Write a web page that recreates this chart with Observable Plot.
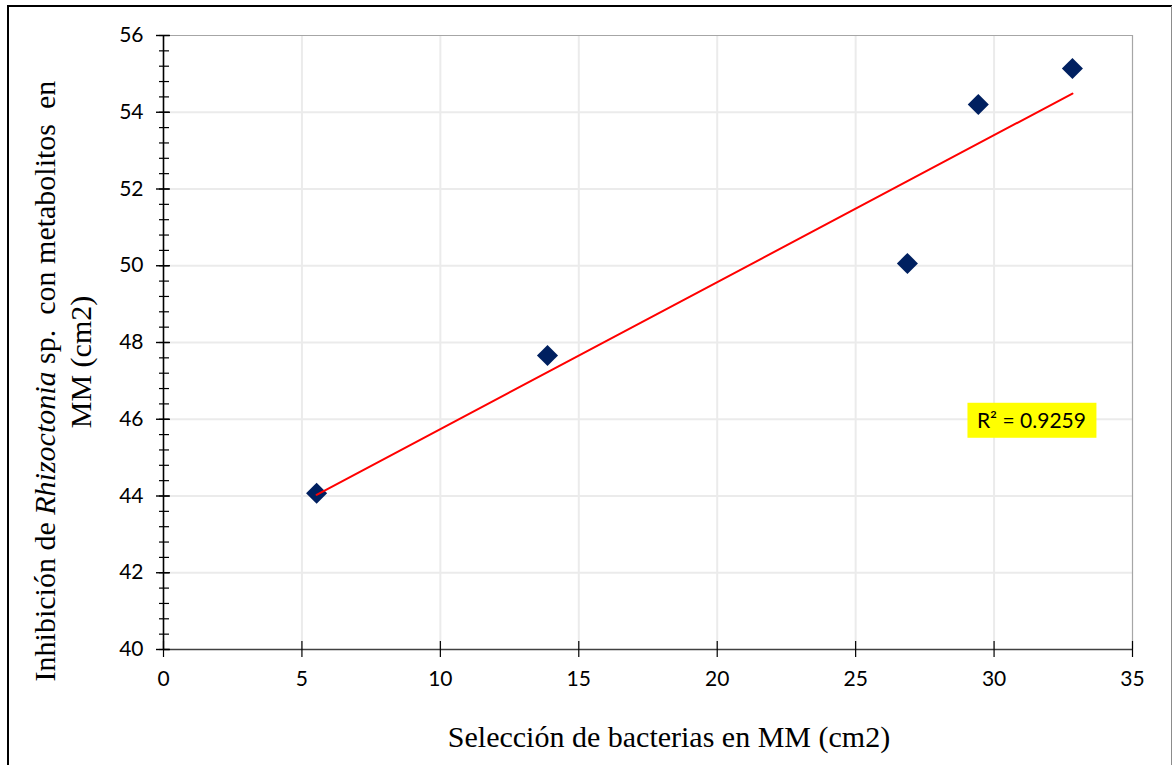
<!DOCTYPE html>
<html><head><meta charset="utf-8">
<script src="https://cdn.jsdelivr.net/npm/d3@7"></script>
<script src="https://cdn.jsdelivr.net/npm/@observablehq/plot@0.6"></script>
<style>
body{margin:0;background:#fff}
#chart{position:relative;width:1173px;height:765px;overflow:hidden}
</style>
</head><body><div id="chart"></div>
<script>
// Data
const bacteriaSelection = [5.53, 13.87, 26.87, 29.43, 32.83];      // x: Selección de bacterias en MM (cm2)
const rhizoctoniaInhibition = [44.07, 47.66, 50.06, 54.20, 55.14]; // y: Inhibición ... (cm2)
const xTicks = [0, 5, 10, 15, 20, 25, 30, 35];
const yTicks = [40, 42, 44, 46, 48, 50, 52, 54, 56];
const yMinorTicks = d3.range(0, 41).map(i => 40 + i * 0.4).filter(v => v <= 56.001);
const r2Label = "R² = 0.9259";
const xTitle = "Selección de bacterias en MM (cm2)";
const yTitleParts = [["Inhibición de ", false], ["Rhizoctonia", true], [" sp.  con metabolitos  en", false]];
const yTitleLine2 = "MM (cm2)";

const data = bacteriaSelection.map((x, i) => ({x, y: rhizoctoniaInhibition[i]}));

const plot = Plot.plot({
  width: 1173, height: 765,
  marginLeft: 163, marginRight: 41, marginTop: 35, marginBottom: 116,
  style: {fontFamily: "Lato, sans-serif", color: "#000", background: "transparent", overflow: "visible"},
  x: {domain: [0, 35]},
  y: {domain: [40, 56]},
  marks: [
    Plot.gridX(xTicks.slice(1, -1), {stroke: "#ebebeb", strokeWidth: 2, strokeOpacity: 1}),
    Plot.gridY(yTicks.slice(1, -1), {stroke: "#ebebeb", strokeWidth: 2, strokeOpacity: 1}),
    Plot.ruleY([56], {stroke: "#a6a6a6", strokeWidth: 1.2}),
    Plot.ruleX([35], {stroke: "#a6a6a6", strokeWidth: 1.2}),
    Plot.ruleY([40], {stroke: "#404040", strokeWidth: 1.6}),
    Plot.ruleX([0], {stroke: "#000", strokeWidth: 1.6}),
    Plot.ruleY(yMinorTicks, {y: d => d, x1: 0, x2: 0, insetLeft: -4, insetRight: -6, stroke: "#000", strokeWidth: 1.2}),
    Plot.ruleY(yTicks, {y: d => d, x1: 0, x2: 0, insetLeft: -7, insetRight: -7, stroke: "#000", strokeWidth: 1.4}),
    Plot.ruleX(xTicks, {x: d => d, y1: 40, y2: 40, insetTop: -8, insetBottom: -8, stroke: "#000", strokeWidth: 1.2}),
    Plot.axisY({ticks: yTicks, tickSize: 0, tickPadding: 20, label: null, fontSize: 21, tickFormat: d => d}),
    Plot.axisX({ticks: xTicks, tickSize: 0, tickPadding: 22, label: null, fontSize: 21, tickFormat: d => d}),
    Plot.dot(data, {x: "x", y: "y", symbol: "diamond2", r: 9.5, fill: "#002060", stroke: "none"}),
    Plot.linearRegressionY(data, {x: "x", y: "y", stroke: "#ff0000", strokeWidth: 2, ci: 0}),
    Plot.text([r2Label], {x: 31.35, y: 45.94, text: d => d, fontSize: 21, fill: "#000", className: "r2label"})
  ]
});

document.getElementById("chart").appendChild(plot);
const svg = d3.select(plot);

// Yellow background behind the R² label
const lbl = svg.select(".r2label text");
if (!lbl.empty()) {
  const sr = plot.getBoundingClientRect();
  const bb = lbl.node().getBoundingClientRect();
  svg.select(".r2label").insert("rect", ":first-child")
    .attr("x", bb.left - sr.left - 10).attr("y", bb.top - sr.top - 5)
    .attr("width", bb.width + 20).attr("height", bb.height + 10)
    .attr("fill", "#ffff00");
}

const serif = "'Liberation Serif', 'Times New Roman', serif";
// Axis titles
svg.append("text")
  .attr("x", 669).attr("y", 747)
  .attr("text-anchor", "middle")
  .style("font-family", serif)
  .style("font-size", "30px").attr("fill", "#000")
  .text(xTitle);

const yt = svg.append("text")
  .attr("transform", "translate(55,381) rotate(-90)")
  .attr("text-anchor", "middle")
  .style("font-family", serif)
  .style("font-size", "30px").attr("fill", "#000");
yTitleParts.forEach(([t, it]) => yt.append("tspan").style("font-style", it ? "italic" : "normal").text(t));

svg.append("text")
  .attr("transform", "translate(91,362) rotate(-90)")
  .attr("text-anchor", "middle")
  .style("font-family", serif)
  .style("font-size", "30px").attr("fill", "#000")
  .text(yTitleLine2);

// Outer border of the figure
svg.append("line").attr("x1", 8).attr("x2", 1172).attr("y1", 6).attr("y2", 6).attr("stroke", "#000").attr("stroke-width", 2);
svg.append("line").attr("x1", 8).attr("x2", 8).attr("y1", 5).attr("y2", 770).attr("stroke", "#000").attr("stroke-width", 2);
svg.append("line").attr("x1", 1171.5).attr("x2", 1171.5).attr("y1", 6).attr("y2", 770).attr("stroke", "#8c8c8c").attr("stroke-width", 1);
</script>
</body></html>
